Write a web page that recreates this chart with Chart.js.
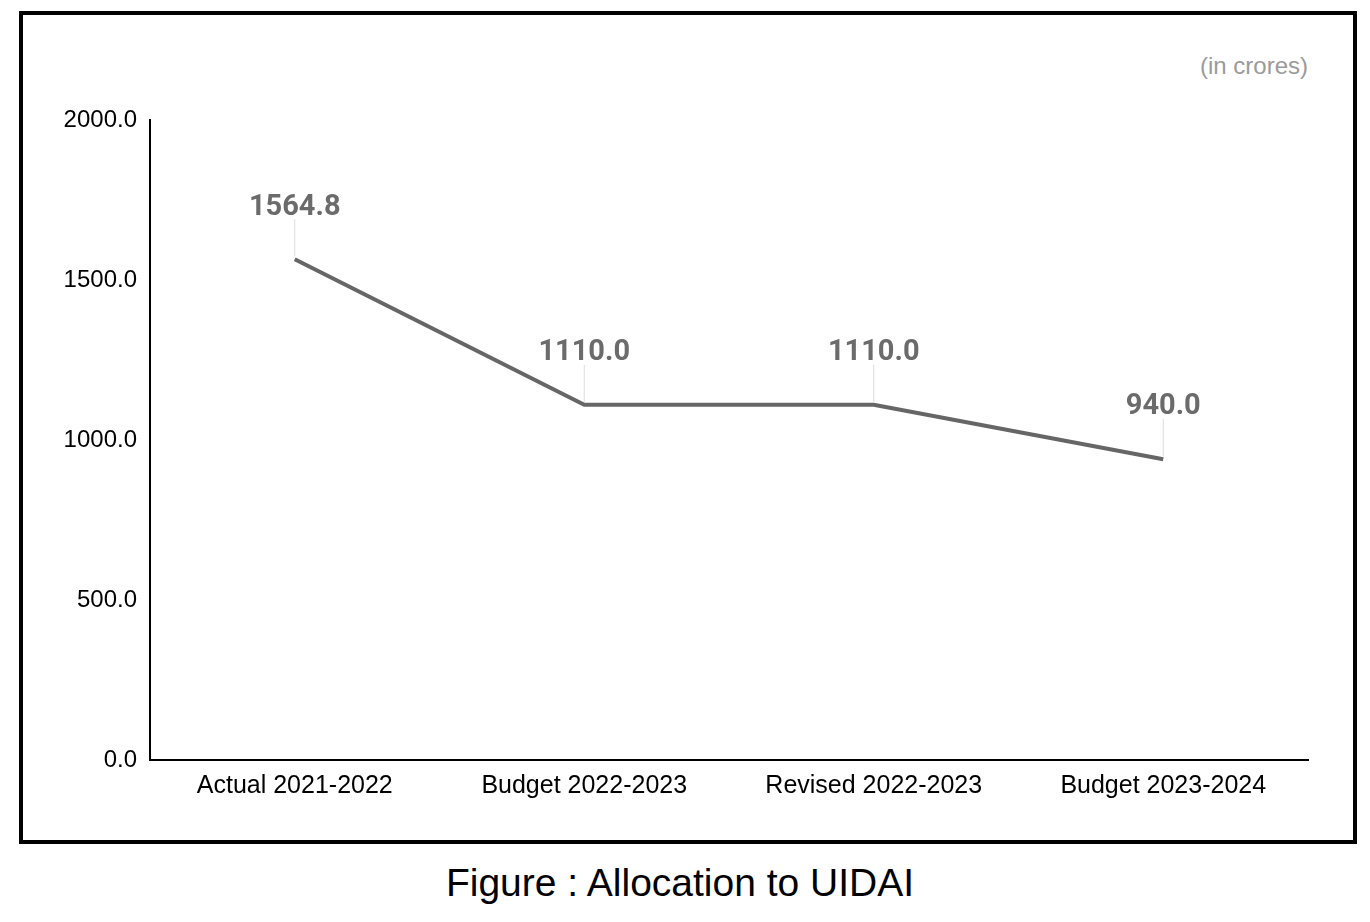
<!DOCTYPE html>
<html>
<head>
<meta charset="utf-8">
<script src="https://cdn.jsdelivr.net/npm/chart.js@4/dist/chart.umd.min.js"></script>
<style>
  body { margin: 0; background: #fff; }
  #frame { position: absolute; left: 19px; top: 11px; width: 1330px; height: 825px; border: 4px solid #000; }
  #unit { position: absolute; right: 62px; top: 52px; font: 24px "Liberation Sans", Arial, sans-serif; color: #9a9a9a; }
  #caption { position: absolute; left: -5px; width: 1370px; top: 861px; text-align: center; font: 39px "Liberation Sans", Arial, sans-serif; color: #000; }
  #wrap { position: absolute; left: 0; top: 0; width: 1370px; height: 922px; }
</style>
</head>
<body>
<div id="frame"></div>
<div id="unit">(in crores)</div>
<div id="caption">Figure : Allocation to UIDAI</div>
<div id="wrap"><canvas id="lineChart"></canvas></div>
<script>
var categorias = ['Actual 2021-2022', 'Budget 2022-2023', 'Revised 2022-2023', 'Budget 2023-2024'];
var asignacion = [1564.8, 1110.0, 1110.0, 940.0];
var ticksY = [0, 500, 1000, 1500, 2000];

// etiquetas de valor con linea guia
var etiquetas = {
    id: 'etiquetas',
    afterDatasetsDraw: function (chart) {
        var ctx = chart.ctx;
        var meta = chart.getDatasetMeta(0);
        ctx.save();
        meta.data.forEach(function (pt, i) {
            ctx.strokeStyle = '#dddddd';
            ctx.lineWidth = 1;
            ctx.beginPath();
            ctx.moveTo(pt.x, pt.y - 3);
            ctx.lineTo(pt.x, pt.y - 40);
            ctx.stroke();
            ctx.fillStyle = '#6b6b6b';
            ctx.font = 'bold 29px Roboto';
            ctx.textAlign = 'center';
            ctx.textBaseline = 'middle';
            ctx.fillText(asignacion[i].toFixed(1), pt.x, pt.y - 52);
        });
        ctx.restore();
    }
};

var ctx = document.getElementById('lineChart');
var chart = new Chart(ctx, {
    type: 'line',
    data: {
        labels: categorias,
        datasets: [{
            data: asignacion,
            borderColor: '#666666',
            borderWidth: 4,
            pointRadius: 0,
            tension: 0
        }]
    },
    options: {
        responsive: true,
        maintainAspectRatio: false,
        animation: false,
        layout: { padding: { left: 0, right: 62, top: 120, bottom: 0 } },
        plugins: { legend: { display: false }, tooltip: { enabled: false } },
        scales: {
            x: {
                offset: true,
                grid: { display: false, drawTicks: false },
                border: { display: true, color: '#000', width: 2 },
                ticks: { color: '#000', font: { family: 'Liberation Sans', size: 25 }, padding: 11, maxRotation: 0 },
                afterFit: function (s) { s.height = 162; }
            },
            y: {
                min: 0,
                max: 2000,
                grid: { display: false, drawTicks: false },
                border: { display: true, color: '#000', width: 2 },
                afterBuildTicks: function (s) { s.ticks = ticksY.map(function (v) { return { value: v }; }); },
                ticks: {
                    color: '#000',
                    font: { family: 'Liberation Sans', size: 24 },
                    padding: 13,
                    callback: function (v) { return Number(v).toFixed(1); }
                },
                afterFit: function (s) { s.width = 150; }
            }
        }
    },
    plugins: [etiquetas]
});
</script>
</body>
</html>
